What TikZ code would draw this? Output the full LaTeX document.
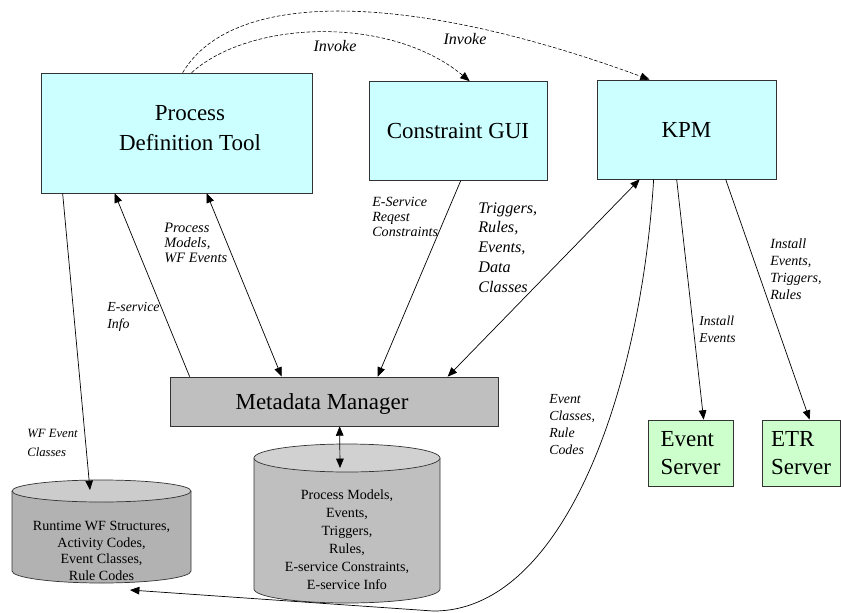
\documentclass[tikz,border=0pt]{standalone}
\usepackage{fontspec}
\setmainfont{Liberation Serif}
\usetikzlibrary{calc,arrows.meta}
\newlength\pxu
\setlength\pxu{0.03cm}
\definecolor{toolcyan}{HTML}{CCFFFF}
\definecolor{servergreen}{HTML}{CCFFCC}

\begin{document}
\begin{tikzpicture}[x=0.03cm,y=-0.03cm,>={Triangle[length=8pt,width=6.5pt]},line width=0.6pt,
    tool/.style={draw=black!80,fill=toolcyan,inner sep=0pt,align=center,font=\fontsize{19.6}{25}\selectfont},
    server/.style={draw=black!80,fill=servergreen,inner sep=0pt,align=left,font=\fontsize{19.6}{24}\selectfont},
    title/.style={inner sep=0pt,align=center,font=\fontsize{19.6}{25}\selectfont},
    store/.style={draw=black!80},
    storetext/.style={inner sep=0pt,align=center,font=\fontsize{12}{14}\selectfont},
    lbl/.style={anchor=north west,inner sep=0pt,align=left,font=\itshape\fontsize{12}{14.5}\selectfont},
    invoke/.style={dash pattern=on 3pt off 1.6pt,line width=0.5pt}]
        \useasboundingbox (0,0) rectangle (841,612);
        \node[tool,minimum width=271\pxu,minimum height=120\pxu] (pdt) at (176.5,133) {};
        \node[title] (pdttext) at (190,128) {Process\\Definition Tool};
        \node[tool,minimum width=178\pxu,minimum height=99\pxu] (cgui) at (458,131) {Constraint GUI};
        \node[tool,minimum width=179\pxu,minimum height=99\pxu] (kpm) at (686.5,129.5) {KPM};
        \node[draw=black!80,fill=black!25,minimum width=328\pxu,minimum height=49\pxu] (mm) at (334,401.5) {};
        \node[title] (mmtext) at (322,404) {Metadata Manager};
        \node[server,minimum width=85\pxu,minimum height=66\pxu] (evs) at (690.5,453) {Event\\Server};
        \node[server,minimum width=78\pxu,minimum height=66\pxu] (etr) at (801,453) {ETR\\Server};

        \filldraw[store,fill=black!30] (12,491) -- (12,571)
            arc[start angle=180,end angle=360,x radius=89.5\pxu,y radius=12\pxu] -- (191,491);
        \filldraw[store,fill=black!20] (101.5,491) ellipse[x radius=89.5\pxu,y radius=11\pxu];
        \node[storetext] (rt) at (101.5,551) {Runtime WF Structures,\\Activity Codes,\\Event Classes,\\Rule Codes};
        \filldraw[store,fill=black!25] (254,458) -- (254,589)
            arc[start angle=180,end angle=360,x radius=93\pxu,y radius=14\pxu] -- (440,458);
        \filldraw[store,fill=black!18] (347,458) ellipse[x radius=93\pxu,y radius=14\pxu];
        \node[storetext,font=\fontsize{12}{15.4}\selectfont] (md) at (347,540) {Process Models,\\Events,\\Triggers,\\Rules,\\E-service Constraints,\\E-service Info};
        \coordinate (rtin) at (90,490);
        \coordinate (rtkpm) at (130,590);
        \coordinate (mdtop) at (340,468);

        \draw[invoke,->] ($(pdt.north west)+(151,0)$) .. controls (250,20) and (390,15) .. ($(cgui.north west)+(101,0)$);
        \draw[invoke,->] ($(pdt.north west)+(142,0)$) .. controls (235,-15) and (420,-5) .. ($(kpm.north west)+(53,0)$);
        \node[font=\itshape\fontsize{13.7}{16}\selectfont] (inv1) at (335,46) {Invoke};
        \node[font=\itshape\fontsize{13.7}{16}\selectfont] (inv2) at (465,39) {Invoke};

        \draw[->] ($(pdt.south west)+(22,0)$) -- (rtin);
        \draw[->] ($(mm.north west)+(20,0)$) -- ($(pdt.south west)+(74,0)$);
        \draw[<->] ($(pdt.south west)+(166,0)$) -- ($(mm.north west)+(112,0)$);
        \draw[->] ($(cgui.south west)+(92,0)$) -- ($(mm.north west)+(208,0)$);
        \draw[<->] ($(mm.north west)+(278,0)$) -- ($(kpm.south west)+(43,0)$);
        \draw[->] ($(kpm.south west)+(57,0)$) .. controls (640,400) and (560,612) .. (433,611) -- (rtkpm);
        \draw[->] ($(kpm.south west)+(80,0)$) -- ($(evs.north west)+(56,0)$);
        \draw[->] ($(kpm.south west)+(129,0)$) -- ($(etr.north west)+(48,0)$);
        \draw[<->] ($(mm.south west)+(170,0)$) -- (mdtop);

        \node[lbl,font=\itshape\fontsize{10.8}{16.2}\selectfont] (lwf) at (27,429) {WF Event\\Classes};
        \node[lbl,font=\itshape\fontsize{11.8}{14.5}\selectfont] (linfo) at (107,302) {E-service\\Info};
        \node[lbl,font=\itshape\fontsize{12.3}{12.8}\selectfont] (lpm) at (164,223) {Process\\Models,\\WF Events};
        \node[lbl,font=\itshape\fontsize{12}{12.8}\selectfont] (lreq) at (372,197) {E-Service\\Reqest\\Constraints};
        \node[lbl,font=\itshape\fontsize{13.8}{17}\selectfont] (ltrig) at (478,202) {Triggers,\\Rules,\\Events,\\Data\\Classes};
        \node[lbl] (letr) at (770,238) {Install\\Events,\\Triggers,\\Rules};
        \node[lbl,font=\itshape\fontsize{11.6}{14.5}\selectfont] (levs) at (699,316) {Install\\Events};
        \node[lbl,font=\itshape\fontsize{11.8}{14.5}\selectfont] (lcls) at (549,394) {Event\\Classes,\\Rule\\Codes};
\end{tikzpicture}
\end{document}
